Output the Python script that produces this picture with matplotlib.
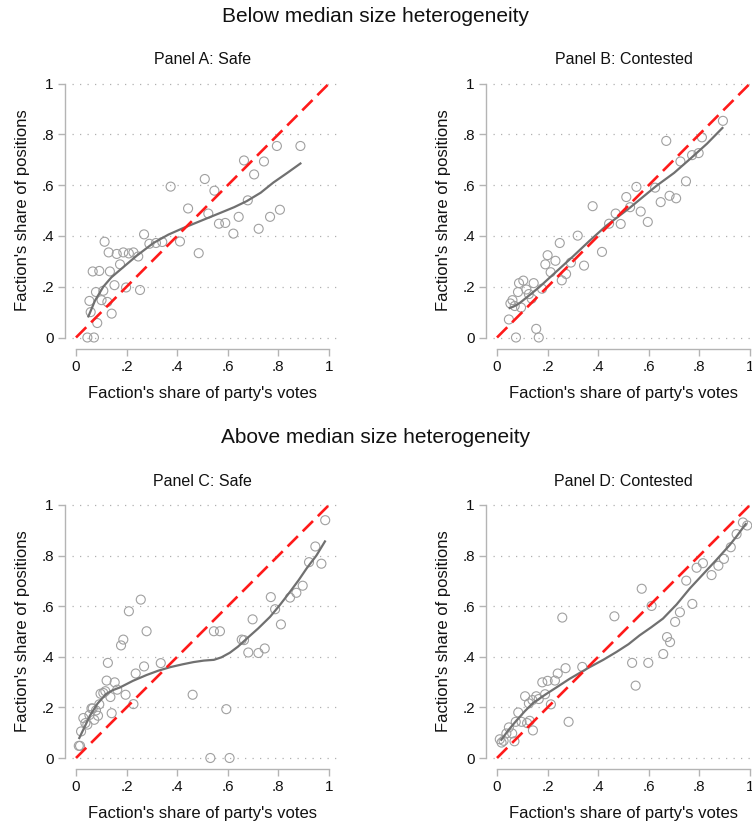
import matplotlib.pyplot as plt

plt.rcParams['font.family'] = ['Liberation Sans', 'DejaVu Sans']

# Panel A: below median, safe
a_x = [.045, .071, .084, .141, .058, .053, .101, .124, .079, .108, .152, .198, .253,
       .066, .092, .134, .174, .129, .161, .187, .209, .227, .246, .113, .269, .29,
       .316, .341, .374, .411, .443, .485, .509, .523, .547, .565, .59, .622, .643,
       .664, .679, .704, .722, .743, .767, .794, .806, .887]
a_y = [0, 0, .057, .094, .10, .144, .147, .14, .179, .184, .206, .197, .187,
       .26, .262, .26, .288, .335, .329, .335, .331, .335, .319, .377, .406, .369,
       .372, .376, .594, .378, .508, .332, .624, .488, .578, .448, .451, .409, .475,
       .697, .54, .642, .428, .693, .475, .754, .503, .754]
a_fit_x = [.049, .075, .108, .14, .174, .24, .306, .365, .424, .5, .569, .625, .675, .73, .78, .835, .887]
a_fit_y = [.083, .145, .20, .237, .266, .322, .372, .405, .431, .462, .49, .513, .537, .57, .61, .648, .685]

# Panel B: below median, contested
b_x = [.047, .075, .155, .165, .053, .061, .07, .095, .083, .087, .104, .116, .126,
       .137, .145, .178, .191, .2, .212, .231, .248, .256, .273, .292, .319, .344,
       .378, .415, .443, .469, .489, .511, .526, .551, .568, .596, .625, .647, .669,
       .682, .708, .725, .747, .771, .797, .81, .893]
b_y = [.071, 0, .034, 0, .134, .147, .124, .118, .179, .214, .224, .189, .171,
       .153, .214, .192, .288, .324, .257, .302, .372, .225, .25, .295, .401, .283,
       .517, .337, .448, .488, .447, .553, .513, .593, .496, .455, .59, .533, .774,
       .558, .548, .693, .615, .718, .726, .788, .853]
b_fit_x = [.05, .07, .09, .13, .169, .235, .30, .365, .432, .524, .63, .70, .762, .83, .891]
b_fit_y = [.116, .124, .136, .168, .20, .26, .319, .38, .44, .51, .597, .648, .702, .763, .825]

# Panel C: above median, safe
c_x = [.011, .016, .02, .029, .037, .045, .053, .061, .066, .072, .079, .087, .092,
       .097, .108, .116, .121, .126, .136, .141, .153, .163, .178, .187, .196, .209,
       .227, .236, .256, .269, .279, .335, .461, .531, .545, .569, .594, .607, .655,
       .664, .681, .698, .721, .746, .77, .787, .81, .846, .871, .896, .921, .946,
       .97, .985]
c_y = [.048, .048, .105, .158, .138, .132, .17, .196, .196, .151, .188, .167, .212,
       .254, .257, .264, .306, .376, .241, .177, .299, .27, .445, .468, .25, .58,
       .213, .334, .626, .362, .501, .375, .25, 0, .501, .501, .193, 0, .468,
       .466, .417, .548, .415, .433, .636, .588, .528, .634, .653, .681, .774, .836,
       .768, .94]
c_fit_x = [.013, .035, .055, .085, .119, .145, .174, .225, .279, .325, .372, .42, .464,
           .505, .545, .575, .608, .64, .675, .72, .767, .806, .846, .88, .912, .95, .984]
c_fit_y = [.079, .125, .167, .215, .253, .268, .279, .305, .328, .345, .359, .37, .379,
           .385, .388, .398, .416, .44, .472, .512, .558, .605, .657, .703, .75, .80, .856]

# Panel D: above median, contested
d_x = [.011, .018, .026, .037, .047, .06, .069, .074, .084, .097, .119, .129, .126,
       .111, .14, .142, .155, .165, .179, .19, .2, .213, .229, .24, .258, .271,
       .283, .337, .464, .534, .548, .572, .598, .611, .657, .672, .684, .704, .723,
       .748, .772, .789, .814, .848, .875, .897, .924, .947, .972, .989]
d_y = [.074, .061, .068, .097, .121, .097, .066, .143, .18, .143, .138, .147, .216,
       .244, .229, .109, .244, .233, .299, .252, .305, .212, .306, .334, .555, .355,
       .143, .36, .56, .376, .286, .669, .376, .601, .411, .478, .458, .538, .576,
       .701, .609, .752, .77, .723, .76, .787, .833, .885, .931, .919]
d_fit_x = [.017, .045, .076, .11, .142, .19, .235, .287, .33, .366, .42, .472, .52, .564,
           .61, .656, .71, .762, .815, .867, .92, .95, .983]
d_fit_y = [.072, .11, .147, .185, .217, .25, .279, .313, .338, .359, .388, .419, .45, .485,
           .517, .551, .607, .67, .727, .783, .842, .88, .925]

panels = [
    ("Panel A: Safe", a_x, a_y, a_fit_x, a_fit_y),
    ("Panel B: Contested", b_x, b_y, b_fit_x, b_fit_y),
    ("Panel C: Safe", c_x, c_y, c_fit_x, c_fit_y),
    ("Panel D: Contested", d_x, d_y, d_fit_x, d_fit_y),
]
ticks = [0, .2, .4, .6, .8, 1]
tick_labels = ["0", ".2", ".4", ".6", ".8", "1"]

W, H = 752, 823
fig = plt.figure(figsize=(W / 100, H / 100), dpi=100)
fig.patch.set_facecolor('white')

# axes boxes in pixels: left, right, top(y=1), bottom(y=0)
boxes = [(76, 329, 83.5, 337.5), (497, 750, 83.5, 337.5),
         (76, 329, 505, 758), (497, 750, 505, 758)]

axis_col = '#b4b4b4'
for (title, x, y, fx, fy), (l, r, t, b) in zip(panels, boxes):
    ax = fig.add_axes([l / W, 1 - b / H, (r - l) / W, (b - t) / H])
    ax.set_xlim(0, 1)
    ax.set_ylim(0, 1)
    for yv in ticks:
        ax.plot([-0.015, 1.03], [yv, yv], color='#b0b0b0', lw=0.9,
                linestyle=(0, (1, 5)), clip_on=False, zorder=0)
    ax.scatter(x, y, s=42, facecolors='none', edgecolors='#a0a0a0',
               linewidths=0.8, clip_on=False, zorder=2)
    ax.plot(fx, fy, color='#707070', lw=1.6, zorder=3)
    ax.plot([0, 1], [0, 1], color='#ff1a1a', lw=1.9, dashes=(5.5, 2.6),
            clip_on=False, zorder=4)

    for s in ['top', 'right']:
        ax.spines[s].set_visible(False)
    ax.spines['left'].set_position(('outward', 8))
    ax.spines['bottom'].set_position(('outward', 8))
    for s in ['left', 'bottom']:
        ax.spines[s].set_color(axis_col)
        ax.spines[s].set_linewidth(1.0)
    ax.set_xticks(ticks)
    ax.set_xticklabels(tick_labels)
    ax.set_yticks(ticks)
    ax.set_yticklabels(tick_labels)
    ax.tick_params(length=5, width=1.0, color=axis_col, labelsize=11, pad=3,
                   labelcolor='#111111')
    ax.set_facecolor('none')

    ax.set_xlabel("Faction's share of party's votes", fontsize=12, color='#111111')
    ax.xaxis.set_label_coords(0.5, -0.19)
    ax.set_ylabel("Faction's share of positions", fontsize=12, color='#111111')
    ax.yaxis.set_label_coords(-0.18, 0.5)
    ax.set_title(title, fontsize=11.5, color='#111111', pad=14)

fig.text(0.5, 1 - 17 / H, "Below median size heterogeneity", ha='center',
         va='center', fontsize=15, color='#111111')
fig.text(0.5, 1 - 437 / H, "Above median size heterogeneity", ha='center',
         va='center', fontsize=15, color='#111111')

fig.savefig('out.png', dpi=100, facecolor='white')
